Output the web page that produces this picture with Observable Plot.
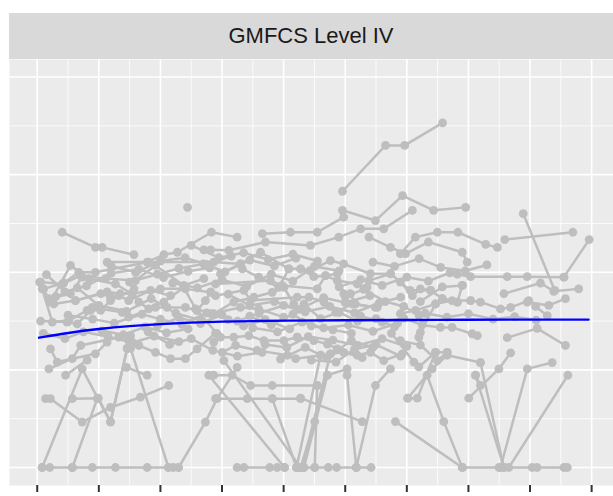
<!DOCTYPE html>
<html>
<head>
<meta charset="utf-8">
<script src="https://cdn.jsdelivr.net/npm/d3@7"></script>
<script src="https://cdn.jsdelivr.net/npm/@observablehq/plot@0.6"></script>
<style>
  html, body { margin: 0; padding: 0; background: #ffffff; }
  #wrap { position: relative; width: 613px; height: 496px; }
  #strip { position: absolute; left: 9px; top: 13px; width: 604px; height: 46px;
    background: #D9D9D9; color: #1A1A1A; display: flex; align-items: center; justify-content: center;
    font-family: "Liberation Sans", Arial, Helvetica, sans-serif; font-size: 22px; }
  #chart { position: absolute; left: 0; top: 59px; }
</style>
</head>
<body>
<div id="wrap">
  <div id="strip">GMFCS Level IV</div>
  <div id="chart"></div>
</div>
<script>
const panelTitle = "GMFCS Level IV";

// each subject: list of [age, score] observations
const trajectories = [
  [[9.91,56.6],[11.31,66.0],[11.93,66.0],[13.16,70.6]],
  [[9.91,52.7],[10.98,50.6],[11.86,55.7],[12.87,52.7],[13.91,53.3]],
  [[4.88,53.3]],
  [[0.81,48.2],[1.89,45.1],[2.11,45.1],[3.14,43.6]],
  [[2.27,42.1],[3.57,42.1],[4.11,43.6],[4.55,44.1],[5.66,48.2],[6.49,47.2]],
  [[7.31,47.9],[8.22,48.2],[9.09,48.2],[9.95,51.3]],
  [[5.41,44.6],[5.63,44.6],[6.22,44.5],[7.41,46.2],[8.87,45.5],[9.79,47.2],[10.50,48.9],[11.25,48.9],[12.18,52.7]],
  [[5.95,39.7],[6.60,41.7],[7.25,44.1],[8.17,40.7],[8.55,40.7],[8.87,40.4],[9.52,42.4],[9.95,41.7],[10.82,39.7],[11.47,39.7]],
  [[10.77,47.2],[11.47,45.1],[11.96,43.8],[12.70,46.2],[13.80,44.1],[13.96,42.1]],
  [[11.79,43.8],[12.28,47.2],[12.99,48.2],[13.66,48.2],[14.56,45.7],[14.94,45.1]],
  [[15.78,52.0],[16.80,36.3]],
  [[15.18,46.7],[17.39,48.2]],
  [[17.10,39.0],[17.92,46.7]],
  [[13.64,39.6],[14.07,39.1],[15.26,39.1],[15.91,39.1],[17.10,39.0]],
  [[15.15,35.6],[16.34,37.8],[16.77,36.1],[17.58,36.6]],
  [[14.07,34.2],[14.39,33.9],[15.04,32.5],[15.37,32.8],[15.96,34.2],[16.18,33.0],[16.56,31.1]],
  [[13.15,34.6],[13.64,33.9],[13.80,37.3]],
  [[15.91,33.9],[16.61,33.2],[17.15,34.6]],
  [[15.26,26.6],[16.23,28.5],[17.15,25.0]],
  [[10.5,31.0],[11.2,29.8],[11.9,30.6],[12.5,29.2],[13.09,28.7],[13.47,28.7],[14.12,27.4],[14.29,27.0]],
  [[12.39,26.7],[12.44,27.7],[12.93,33.5]],
  [[11.79,31.5],[12.28,32.2],[12.93,33.5],[13.47,34.2],[14.07,34.2]],
  [[15.31,0],[17.23,18.9]],
  [[15.04,0],[15.91,20.2],[16.72,21.5]],
  [[13.80,0],[14.99,0],[16.07,0],[16.23,0],[17.10,0],[17.21,0]],
  [[14.39,21.5],[15.15,0]],
  [[14.23,18.9],[15.15,0]],
  [[14.01,14.2],[14.99,20.2],[15.37,23.5]],
  [[12.66,18.9],[13.20,9.4],[13.80,0]],
  [[11.63,9.4],[13.80,0]],
  [[8.55,14.2],[10.55,9.4]],
  [[12.03,14.2],[12.34,14.2],[12.93,23.6],[13.31,23.6]],
  [[0.16,0],[0.41,0],[1.14,0]],
  [[1.14,0],[1.79,0],[2.54,0],[3.57,0],[4.26,0],[4.42,0],[4.59,0]],
  [[0.16,0],[1.46,20.2],[2.38,9.3],[2.92,24.4]],
  [[1.14,0],[1.95,14.1]],
  [[0.27,14.1],[0.43,14.1],[1.46,9.3],[2.38,12.3],[3.35,14.4],[4.27,16.8]],
  [[1.14,14.1],[1.98,14.2],[2.38,9.4],[2.92,24.4]],
  [[3.03,24.4],[4.26,0]],
  [[4.59,0],[5.46,9.3],[5.84,14.1],[6.49,20.5]],
  [[0.43,24.3],[0.65,21.6],[1.89,23.3],[2.27,25.7]],
  [[0.38,20.2],[1.14,22.3],[1.41,25.0],[2.65,26.7],[3.03,27.0]],
  [[0.92,18.9],[1.62,22.0]],
  [[2.97,26.0],[3.30,25.0],[3.84,23.6],[4.33,22.3],[4.81,22.3],[5.19,24.3],[5.79,27.5]],
  [[2.9,20.5],[3.57,18.9]],
  [[6.49,0],[6.71,0],[7.55,0],[7.79,0],[8.03,0]],
  [[8.42,0],[8.55,0],[8.66,0],[9.01,0],[9.45,0],[9.72,0],[10.36,0],[10.84,0]],
  [[5.57,18.9],[8.03,0]],
  [[5.79,14.1],[6.82,14.1],[7.63,14.1],[8.55,14.1]],
  [[7.63,14.1],[8.42,0]],
  [[6.06,21.9],[8.55,0]],
  [[8.66,0],[9.42,18.9],[10.06,20.2]],
  [[8.42,0],[9.20,23.0]],
  [[8.60,0],[9.52,23.3]],
  [[10.06,18.9],[10.36,0]],
  [[10.36,0],[10.98,16.8],[11.47,20.2]],
  [[9.01,0],[9.09,16.8]],
  [[8.55,0],[9.01,9.4],[9.42,18.9]],
  [[5.73,18.9],[6.33,18.9],[6.93,16.8],[7.63,16.8],[9.09,16.8]],
  [[0.11,38.0],[0.81,37.6],[1.41,39.3],[2.22,38.7],[3.19,38.3],[3.84,41.4],[4.76,37.3],[5.41,38.7]],
  [[0.21,36.6],[0.86,37.8],[1.35,40.0],[1.89,40.0],[3.62,42.1],[5.73,42.1],[6.60,41.7]],
  [[0.38,34.6],[1.08,35.6],[1.46,39.0],[2.54,37.6],[3.08,35.6],[4.00,36.6],[4.81,36.6],[5.63,35.9]],
  [[0.54,33.5],[1.24,34.2],[2.06,35.6],[2.38,34.9],[2.65,35.2],[2.97,34.2],[3.68,36.3],[4.33,35.2]],
  [[0.08,38.0],[0.43,33.9],[1.08,41.4],[1.68,38.7]],
  [[0.16,36.6],[0.49,29.8],[1.03,30.1],[1.62,32.2],[1.79,32.8],[2.76,31.8],[2.97,30.8],[3.84,32.8],[4.22,32.8],[4.81,32.8],[5.19,32.2],[5.46,34.2],[5.63,36.0]],
  [[0.11,30.0],[0.97,29.8],[1.30,29.4],[1.73,32.2],[2.06,32.2],[2.38,34.2],[3.14,36.6]],
  [[1.24,34.2],[2.27,36.0],[2.70,35.6],[3.08,35.6],[3.30,33.9],[3.62,32.5],[4.11,33.9],[4.76,36.9],[5.14,32.5],[5.73,31.5],[6.38,33.9],[7.03,34.9],[7.63,35.9],[8.01,36.9],[8.33,33.5]],
  [[5.19,32.2],[5.84,27.4]],
  [[6.66,40.7],[7.19,39.0],[7.84,36.9],[8.17,40.7]],
  [[5.79,37.6],[7.57,38.3],[7.95,37.3],[9.09,36.6],[9.36,39.3],[9.74,38.3],[10.39,37.6],[10.71,36.9]],
  [[5.79,35.2],[6.71,36.3],[6.93,34.2],[8.44,34.9],[8.82,34.9],[9.31,33.9],[9.69,31.8],[10.23,33.5],[11.04,32.8]],
  [[5.63,31.5],[6.60,32.8],[7.19,32.5],[8.00,30.8]],
  [[11.79,38.0],[12.18,35.2],[12.44,36.6],[12.77,36.3],[13.15,34.6],[13.64,33.9]],
  [[12.44,34.0],[13.15,37.0],[13.80,37.3]],
  [[8.55,40.7],[8.98,39.1],[9.36,39.3],[9.74,39.7],[9.95,35.6],[10.17,35.6],[10.33,33.5],[10.98,32.8]],
  [[10.77,38.3],[11.47,39.7],[12.11,36.3],[12.77,36.3]],
  [[8.44,26.7],[8.98,26.0],[9.42,25.3],[9.74,24.3],[10.39,23.0],[10.82,23.6],[11.25,21.9],[11.85,23.3]],
  [[6.01,23.6],[6.44,25.0],[7.14,24.0],[8.12,23.0],[8.39,22.3],[9.20,23.0],[9.52,23.3],[9.95,23.6],[10.55,22.5]],
  [[5.73,25.7],[5.95,26.7],[6.38,26.7],[6.87,27.0],[7.36,26.0],[8.01,26.0],[8.44,26.7]],
  [[11.79,26.0],[12.44,25.1],[12.99,21.9],[13.31,23.6]],
  [[11.5,27.5],[12.23,21.6],[12.39,20.6],[12.93,23.6]],
  [[12.03,14.2],[12.82,20.2],[13.31,23.0],[14.39,21.5]],
  [[14.23,18.9],[14.39,16.8]],
  [[8.66,33.5],[9.2,30.5],[9.8,31.8],[10.4,30.0],[11.0,30.5],[11.6,28.8]],
  [[6.9,31.0],[7.6,29.2],[8.3,31.4],[8.9,29.0],[9.6,28.2],[10.2,27.5]],
  [[10.0,35.0],[10.6,36.5],[11.3,34.0],[11.9,33.0],[12.4,31.2]],
  [[2.1,28.0],[2.8,27.2],[3.5,28.8],[4.2,27.6],[4.9,28.4]],
  [[0.3,39.5],[0.9,36.0],[1.6,37.2],[2.4,39.8],[3.3,40.6],[4.1,38.9],[4.9,40.2],[5.6,40.9]],
  [[0.6,35.0],[1.3,36.8],[2.0,33.2],[2.9,32.0],[3.7,34.6],[4.5,31.6],[5.3,30.2]],
  [[1.0,31.2],[1.8,30.4],[2.5,29.6],[3.4,31.4],[4.0,30.4],[4.7,29.3],[5.5,31.7],[6.2,30.3]],
  [[3.0,38.0],[3.9,39.6],[4.6,40.8],[5.4,41.7],[6.1,40.1],[6.9,42.5],[7.7,41.3],[8.4,42.9]],
  [[4.4,37.8],[5.2,36.8],[6.0,38.5],[6.8,37.1],[7.6,39.6],[8.3,38.2],[9.0,41.2],[9.8,40.3]],
  [[6.2,35.5],[6.9,33.2],[7.7,34.0],[8.5,32.4],[9.3,34.8],[10.0,33.8],[10.8,35.2]],
  [[6.5,30.0],[7.2,31.6],[8.0,33.2],[8.7,31.9],[9.5,33.0],[10.3,31.7],[11.1,33.7],[11.8,34.9]],
  [[7.0,28.6],[7.8,27.8],[8.6,29.8],[9.3,28.6],[10.1,29.2],[10.9,27.9],[11.7,29.6]],
  [[7.4,25.2],[8.1,24.6],[8.8,26.8],[9.6,26.1],[10.4,25.0],[11.2,26.4],[12.0,24.8]],
  [[8.9,22.0],[9.7,21.6],[10.3,24.2],[11.0,25.2],[11.8,22.8]],
  [[9.8,37.0],[10.5,38.5],[11.2,37.3],[12.0,39.0],[12.7,38.2],[13.4,39.9]],
  [[10.9,42.1],[11.6,41.2],[12.4,42.8],[13.1,41.0],[13.9,40.3],[14.6,41.5]],
  [[12.6,31.6],[13.3,30.8],[14.0,31.5],[14.8,30.4],[15.5,30.9],[16.2,30.2]],
  [[0.2,27.5],[0.9,26.4],[1.5,27.8],[2.3,26.8],[3.1,25.6],[3.8,26.9],[4.6,25.8]],
  [[3.9,29.0],[4.6,30.7],[5.3,29.5],[6.0,31.3],[6.7,29.0],[7.4,30.3],[8.2,28.4]],
  [[2.4,41.3],[3.2,40.0],[4.0,42.3],[4.8,43.0],[5.5,41.6],[6.3,43.3]],
  [[5.0,45.5],[5.9,43.0],[6.7,44.0],[7.5,42.6],[8.3,43.7],[9.1,42.3]],
  [[3.6,27.8],[4.3,25.2],[5.0,26.4],[5.7,24.0],[6.5,22.8],[7.3,23.6]],
  [[7.9,22.2],[8.7,24.6],[9.4,22.4],[10.2,26.0],[10.9,24.6]]
];

// smooth trend
const trendAge   = [0.06, 1, 2, 3, 4, 5, 6, 7, 8, 10, 12, 14, 16, 17.9];
const trendScore = [26.6, 27.6, 28.4, 29.0, 29.4, 29.7, 29.9, 30.0, 30.1, 30.2, 30.2, 30.3, 30.3, 30.3];

const xMajor = [0, 2, 4, 6, 8, 10, 12, 14, 16, 18];
const xMinor = [1, 3, 5, 7, 9, 11, 13, 15, 17];
const yMajor = [0, 20, 40, 60, 80];
const yMinor = [10, 30, 50, 70];
const xDomain = [-0.9, 18.71];
const yDomain = [-3.69, 83.6];

const obs = trajectories.flatMap((t, i) => t.map(([age, score]) => ({id: i, age, score})));
const trend = trendAge.map((a, i) => ({age: a, score: trendScore[i]}));

const chart = Plot.plot({
  width: 613,
  height: 437,
  marginLeft: 9,
  marginRight: 0,
  marginTop: 0,
  marginBottom: 11,
  x: {domain: xDomain},
  y: {domain: yDomain, axis: null},
  marks: [
    Plot.frame({fill: "#EBEBEB", stroke: null}),
    Plot.gridX(xMinor, {stroke: "#ffffff", strokeOpacity: 1, strokeWidth: 0.8}),
    Plot.gridY(yMinor, {stroke: "#ffffff", strokeOpacity: 1, strokeWidth: 0.8}),
    Plot.gridX(xMajor, {stroke: "#ffffff", strokeOpacity: 1, strokeWidth: 1.6}),
    Plot.gridY(yMajor, {stroke: "#ffffff", strokeOpacity: 1, strokeWidth: 1.6}),
    Plot.line(obs, {x: "age", y: "score", z: "id", stroke: "#BEBEBE", strokeWidth: 2.5}),
    Plot.dot(obs, {x: "age", y: "score", r: 4.4, fill: "#BEBEBE", stroke: null}),
    Plot.line(trend, {x: "age", y: "score", stroke: "#0000FF", strokeWidth: 2.4, curve: "basis"}),
    Plot.axisX({ticks: xMajor, tickSize: 7, tickFormat: () => "", label: null, stroke: "#333333", strokeWidth: 2})
  ]
});
document.getElementById("chart").appendChild(chart);
</script>
</body>
</html>
